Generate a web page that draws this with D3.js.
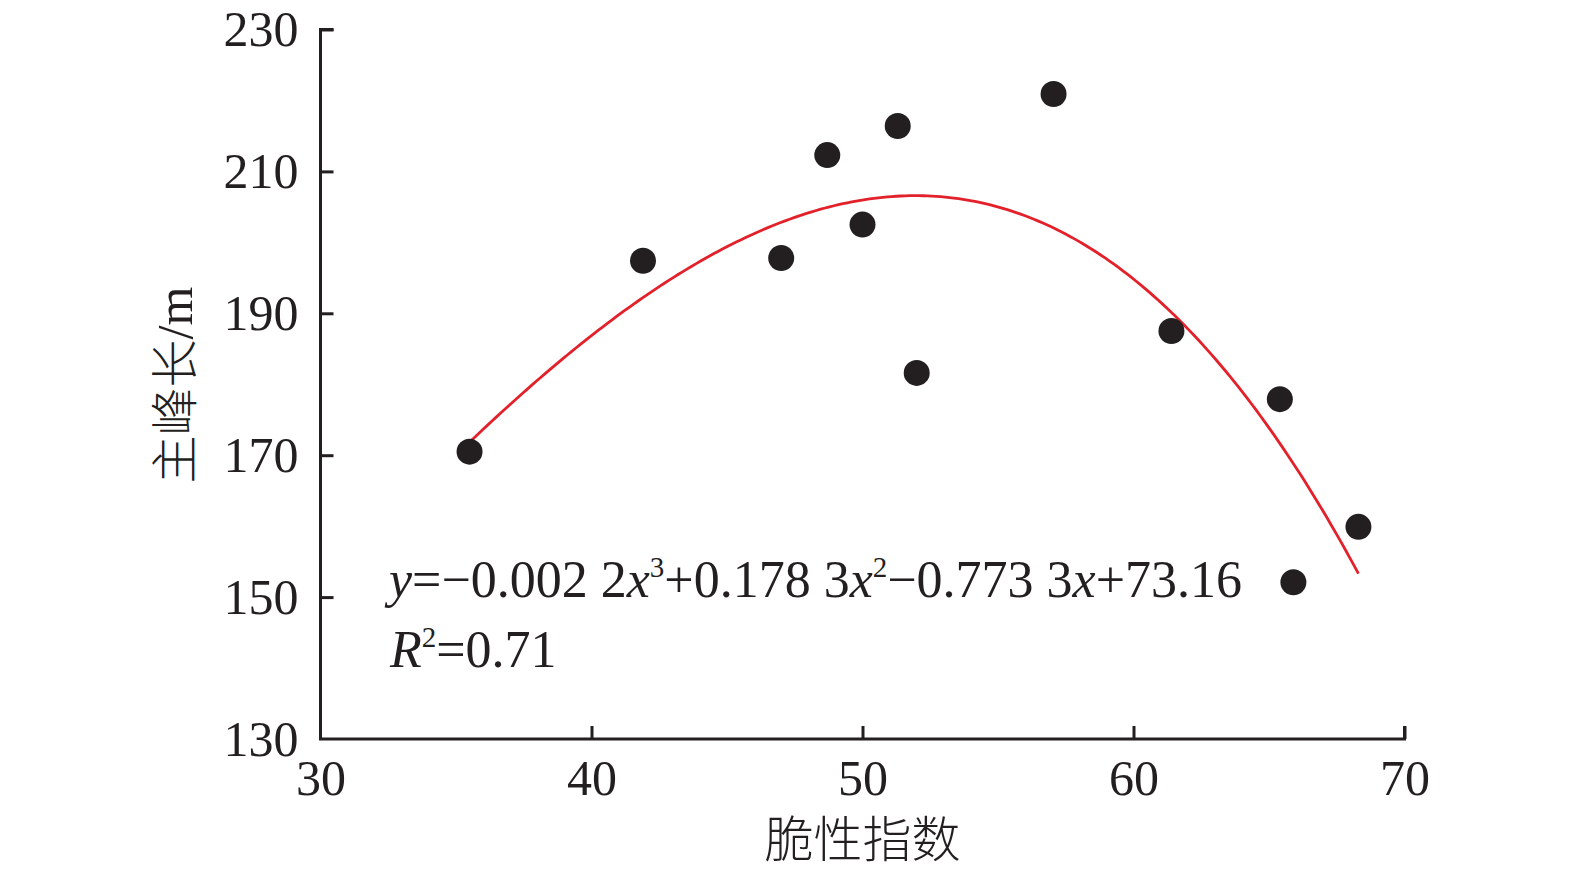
<!DOCTYPE html>
<html>
<head>
<meta charset="utf-8">
<script src="https://cdn.jsdelivr.net/npm/d3@7"></script>
<style>
html,body{margin:0;padding:0;background:#fff;}
svg{display:block;}
</style>
</head>
<body>
<svg id="chart" width="1575" height="869"></svg>
<script>
// ---- data ----
const brittleness = [35.5, 41.9, 47.0, 48.7, 50.0, 51.3, 52.0, 57.05, 61.4, 65.4, 65.9, 68.3];
const peakLength  = [170.5, 197.4, 197.8, 212.3, 202.5, 216.4, 181.6, 220.9, 187.5, 177.9, 152.1, 159.9];
const xTicks = [30, 40, 50, 60, 70];
const yTicks = [130, 150, 170, 190, 210, 230];
const xLabel = "脆性指数";
const yLabelCJK = "主峰长";
const yLabelUnit = "/m";

const svg = d3.select("#chart");
const axisColor = "#231f20";
const serif = "'Liberation Serif','Times New Roman',serif";
const cjk = "'Noto Sans CJK SC','Noto Sans',sans-serif";
const x = d3.scaleLinear().domain([30, 70]).range([320.5, 1404.5]);
const y = d3.scaleLinear().domain([130, 230]).range([739, 29.5]);

// least-squares cubic fit from data
function cubicFit(xs, ys){
  const n = 4;
  const A = Array.from({length:n},()=>Array(n+1).fill(0));
  xs.forEach((xv,i)=>{
    const p=[xv**3,xv**2,xv,1];
    for(let r=0;r<n;r++){for(let c=0;c<n;c++)A[r][c]+=p[r]*p[c];A[r][n]+=p[r]*ys[i];}
  });
  for(let i=0;i<n;i++){
    let m=i;for(let r=i+1;r<n;r++)if(Math.abs(A[r][i])>Math.abs(A[m][i]))m=r;
    [A[i],A[m]]=[A[m],A[i]];
    for(let r=0;r<n;r++){if(r===i)continue;const f=A[r][i]/A[i][i];for(let c=i;c<=n;c++)A[r][c]-=f*A[i][c];}
  }
  return A.map((row,i)=>row[n]/row[i]);
}
const coef = cubicFit(brittleness, peakLength);
const f = xv => coef[0]*xv**3 + coef[1]*xv**2 + coef[2]*xv + coef[3];

// axes
const gx = svg.append("g").attr("transform", `translate(0,${y(130)})`)
  .call(d3.axisBottom(x).tickValues(xTicks).tickSize(-13).tickPadding(20).tickFormat(d3.format("d")));
const gy = svg.append("g").attr("transform", `translate(${x(30)},0)`)
  .call(d3.axisLeft(y).tickValues(yTicks).tickSize(-13).tickPadding(22).tickFormat(d3.format("d")));
[gx, gy].forEach(g=>{
  g.select(".domain").attr("stroke", axisColor).attr("stroke-width", 3);
  g.selectAll(".tick line").attr("stroke", axisColor).attr("stroke-width", 3);
  g.selectAll(".tick text").attr("fill", axisColor)
    .style("font-family", serif).style("font-size", "50px");
});
gx.selectAll(".tick text").attr("dy", "0.71em");
gy.selectAll(".tick text").attr("dy", "0.32em");
gx.selectAll(".tick").filter(d=>d===30).select("line").remove();
gy.selectAll(".tick").filter(d=>d===130).select("line").remove();
gx.select(".domain").attr("d", `M${x(30)-1.5},0H${x(70)}V-13`);
gy.select(".domain").attr("d", `M0,${y(130)}V${y(230)}H13`);

// fit curve
const xs = d3.range(0, 201).map(i => d3.min(brittleness) + i*(d3.max(brittleness)-d3.min(brittleness))/200);
svg.append("path").datum(xs)
  .attr("d", d3.line().x(d=>x(d)).y(d=>y(f(d))))
  .attr("fill", "none").attr("stroke", "#e3212b").attr("stroke-width", 2.8);

// points
svg.append("g").selectAll("circle").data(brittleness).join("circle")
  .attr("cx", d=>x(d)).attr("cy", (d,i)=>y(peakLength[i])).attr("r", 13).attr("fill", "#231f20");

// equation
const eqSize = 52, supSize = 29, supShift = 20;
const eq = svg.append("text").attr("x", 389).attr("y", 597)
  .style("font-family", serif).style("font-size", eqSize + "px").attr("fill", axisColor);
const parts = [
  ["y", true, false], ["=\u22120.002 2", false, false], ["x", true, false], ["3", false, true],
  ["+0.178 3", false, false], ["x", true, false], ["2", false, true],
  ["\u22120.773 3", false, false], ["x", true, false], ["+73.16", false, false]
];
let wasSup = false;
parts.forEach(([t, it, sup])=>{
  const ts = eq.append("tspan").text(t);
  if(it) ts.style("font-style", "italic");
  if(sup){ ts.style("font-size", supSize + "px").attr("dy", -supShift); }
  else if(wasSup){ ts.attr("dy", supShift); }
  wasSup = sup;
});
eq.style("white-space", "pre");
const r2 = svg.append("text").attr("x", 390).attr("y", 667)
  .style("font-family", serif).style("font-size", eqSize + "px").attr("fill", axisColor);
r2.append("tspan").text("R").style("font-style", "italic");
r2.append("tspan").text("2").style("font-size", supSize + "px").attr("dy", -supShift);
r2.append("tspan").text("=0.71").attr("dy", supShift);

// axis labels
svg.append("text").attr("x", x(50)).attr("y", 857).attr("text-anchor", "middle")
  .style("font-family", cjk).style("font-size", "49px").style("font-weight", 300).attr("fill", axisColor).text(xLabel);
const yl = svg.append("text").attr("transform", `translate(192,385) rotate(-90)`).attr("text-anchor", "middle")
  .attr("fill", axisColor);
yl.append("tspan").text(yLabelCJK).style("font-family", cjk).style("font-size", "48px").style("font-weight", 300);
yl.append("tspan").text(yLabelUnit).style("font-family", serif).style("font-size", "50px");
</script>
</body>
</html>
